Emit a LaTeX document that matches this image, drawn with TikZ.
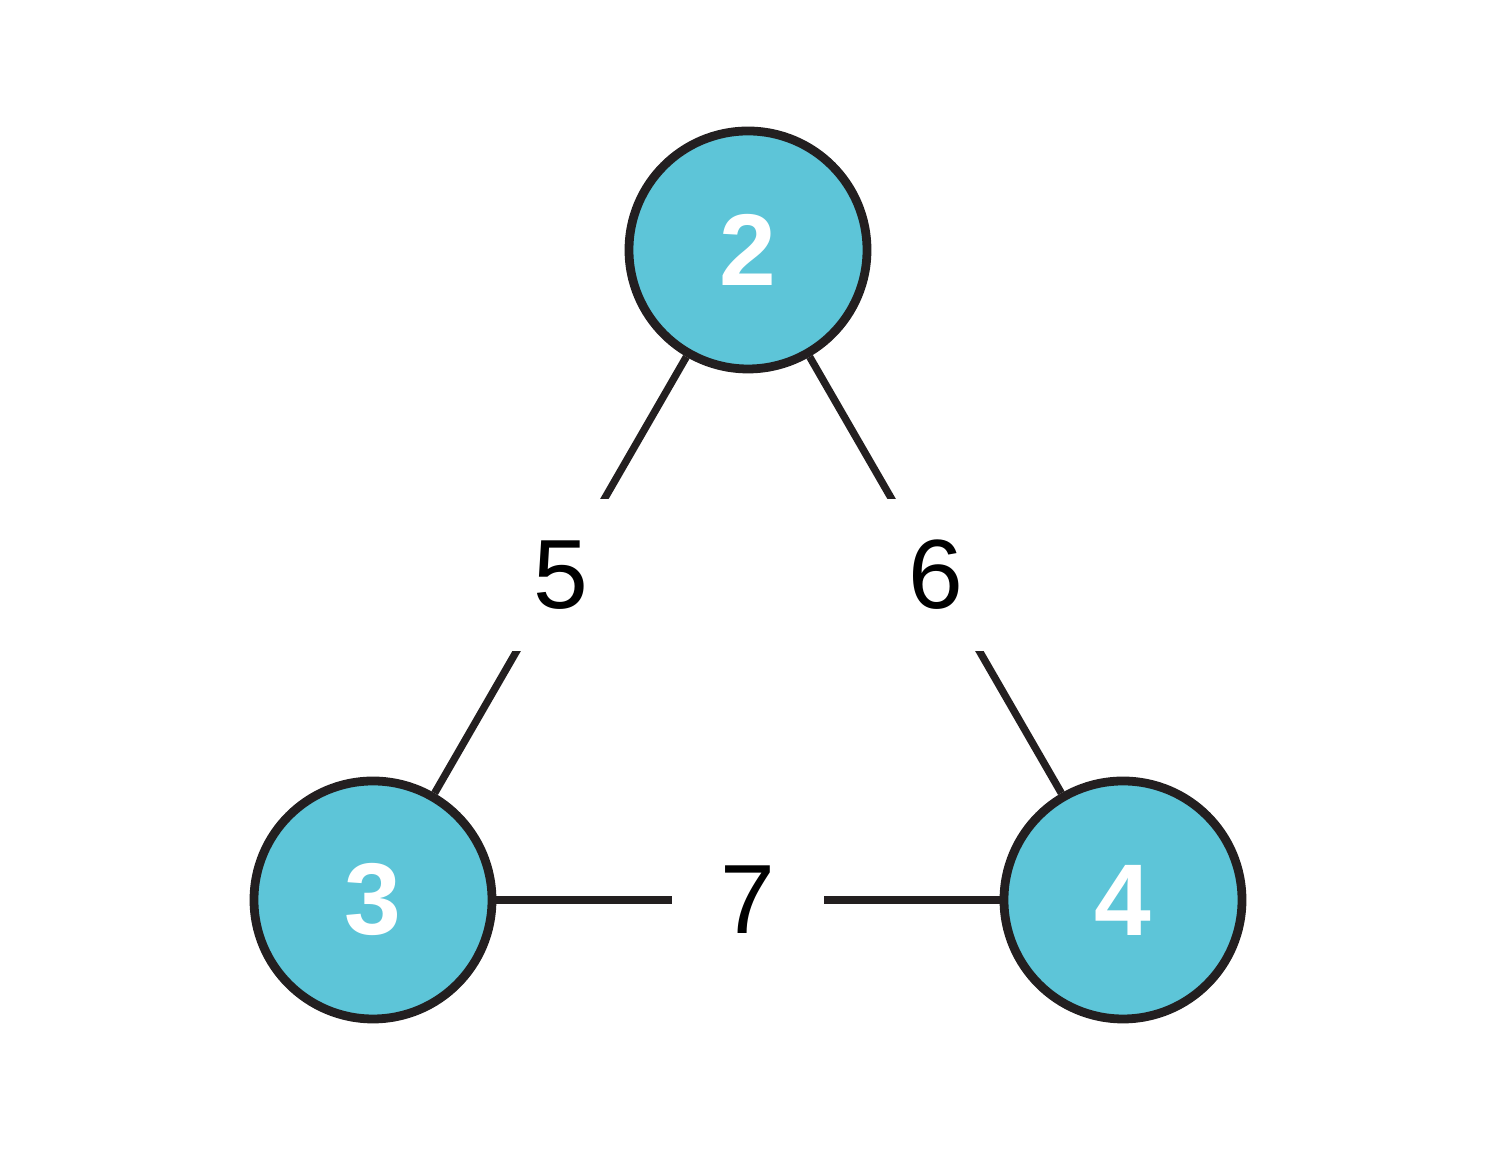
\documentclass[tikz,border=0pt]{standalone}
\usepackage{fontspec}
\setmainfont{Liberation Sans}
\usepackage{xcolor}
\definecolor{cNode}{RGB}{93, 197, 216}
\definecolor{bNode}{RGB}{35, 31, 32}
\definecolor{tDark}{RGB}{0, 0, 0}

\begin{document}
\begin{tikzpicture}[
    font=\fontsize{28}{32}\selectfont,
    vertex/.style={
        circle,
        draw=bNode,
        fill=cNode,
        line width=2.5pt,
        minimum size=2.38cm,
        inner sep=0pt,
        text=white,
        font=\fontsize{29}{32}\selectfont\bfseries
    },
    wlabel/.style={
        fill=white,
        minimum size=1.52cm,
        inner sep=0pt,
        text=tDark
    },
    edge/.style={line width=2.1pt, color=bNode}
]
\useasboundingbox (0,0) rectangle (14.97,11.52);

% Vertices
\node[vertex] (v2) at (7.48, 9.02) {2};
\node[vertex] (v3) at (3.73, 2.52) {3};
\node[vertex] (v4) at (11.23, 2.52) {4};

% Weighted edges
\draw[edge] (v2) -- node[wlabel] (w5) {5} (v3);
\draw[edge] (v2) -- node[wlabel] (w6) {6} (v4);
\draw[edge] (v3) -- node[wlabel] (w7) {7} (v4);

\end{tikzpicture}
\end{document}
